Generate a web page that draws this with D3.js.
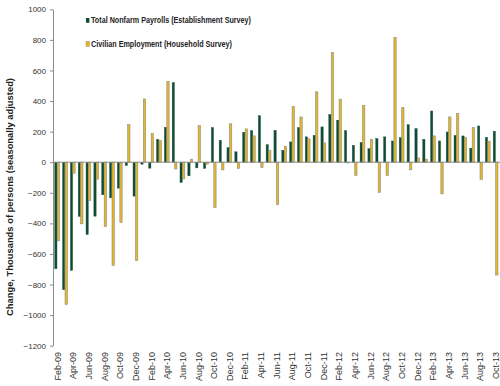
<!DOCTYPE html>
<html>
<head>
<meta charset="utf-8">
<script src="https://cdn.jsdelivr.net/npm/d3@7"></script>
<style>
  body { margin: 0; background: #fff; }
  text { font-family: "Liberation Sans", Arial, sans-serif; }
</style>
</head>
<body>
<svg width="500" height="386"></svg>
<script>
let months = ['Feb-09','Mar-09','Apr-09','May-09','Jun-09','Jul-09','Aug-09','Sep-09','Oct-09','Nov-09','Dec-09',
  'Jan-10','Feb-10','Mar-10','Apr-10','May-10','Jun-10','Jul-10','Aug-10','Sep-10','Oct-10','Nov-10','Dec-10',
  'Jan-11','Feb-11','Mar-11','Apr-11','May-11','Jun-11','Jul-11','Aug-11','Sep-11','Oct-11','Nov-11','Dec-11',
  'Jan-12','Feb-12','Mar-12','Apr-12','May-12','Jun-12','Jul-12','Aug-12','Sep-12','Oct-12','Nov-12','Dec-12',
  'Jan-13','Feb-13','Mar-13','Apr-13','May-13','Jun-13','Jul-13','Aug-13','Sep-13','Oct-13']

let payrolls = [-697, -834, -708, -355, -473, -353, -213, -233, -170, -22, -222,
  -13, -39, 150, 229, 521, -133, -89, -37, -41, 227, 144, 96,
  68, 196, 207, 305, 115, 209, 78, 133, 227, 166, 176, 231,
  312, 275, 207, 111, 129, 89, 155, 166, 139, 161, 246, 220,
  150, 335, 139, 198, 176, 172, 92, 237, 163, 203]

let household = [-514, -930, -72, -403, -250, -111, -420, -675, -394, 246, -643,
  414, 187, 142, 529, -44, -109, 20, 239, -13, -296, -50, 251,
  -41, 218, 172, -35, 76, -277, 105, 364, 296, 153, 460, 126,
  717, 412, -5, -87, 370, 150, -198, -87, 815, 357, -50, 28,
  20, 172, -207, 296, 318, 161, 227, -113, 137, -738]

let yTicks = [-1200, -1000, -800, -600, -400, -200, 0, 200, 400, 600, 800, 1000]
let xTicks = months.filter((m, i) => i % 2 === 0)

let seriesNames = ['Total Nonfarm Payrolls (Establishment Survey)', 'Civilian Employment (Household Survey)']
let legendWidths = [160, 141]
let green = '#0d4c37'
let gold = '#e8b42a'

let svg = d3.select('svg')

let x = d3.scaleBand()
  .domain(months)
  .range([53.5, 499.8])

let inner = d3.scaleBand()
  .domain(['p', 'h'])
  .range([1.2, 6.2])

let y = d3.scaleLinear()
  .domain([-1200, 1000])
  .range([345.7, 9.3])

let rows = months.map((m, i) => ({ m: m, p: payrolls[i], h: household[i] }))

// bars
let groups = svg.append('g')
  .selectAll('g')
  .data(rows)
  .enter()
  .append('g')
  .attr('transform', d => 'translate(' + x(d.m) + ',0)')

groups.append('rect')
  .attr('x', inner('p'))
  .attr('width', inner.bandwidth() - 0.2)
  .attr('y', d => y(Math.max(0, d.p)))
  .attr('height', d => Math.abs(y(d.p) - y(0)))
  .attr('fill', green)
  .attr('stroke', '#2d5a48')
  .attr('stroke-width', 0.4)

groups.append('rect')
  .attr('x', inner('h'))
  .attr('width', inner.bandwidth() - 0.2)
  .attr('y', d => y(Math.max(0, d.h)))
  .attr('height', d => Math.abs(y(d.h) - y(0)))
  .attr('fill', gold)
  .attr('stroke', '#8a8f78')
  .attr('stroke-width', 0.6)

// y axis
let yAxis = svg.append('g')
  .attr('transform', 'translate(53,0)')
  .call(d3.axisLeft(y).tickValues(yTicks).tickSize(3).tickSizeOuter(0).tickFormat(d3.format('d')))

yAxis.select('.domain').attr('stroke', '#8c8c8c')
yAxis.selectAll('.tick line').attr('stroke', '#8c8c8c')
yAxis.selectAll('.tick text')
  .attr('x', -7)
  .style('font-size', '8px')
  .style('font-family', '"Liberation Sans", Arial, sans-serif')
  .attr('fill', '#333')

// zero line
svg.append('line')
  .attr('x1', 53).attr('x2', 500)
  .attr('y1', y(0)).attr('y2', y(0))
  .attr('stroke', '#8c8c8c')
  .attr('stroke-width', 1)

// x labels
svg.append('g')
  .selectAll('text')
  .data(xTicks)
  .enter()
  .append('text')
  .attr('transform', d => 'translate(' + (x(d) + x.bandwidth() / 2) + ',352) rotate(-90)')
  .attr('dy', '0.35em')
  .attr('text-anchor', 'end')
  .style('font-size', '9px')
  .attr('fill', '#333')
  .text(d => d)

// y title
svg.append('text')
  .attr('transform', 'translate(12.5,197) rotate(-90)')
  .attr('text-anchor', 'middle')
  .attr('textLength', 238)
  .attr('lengthAdjust', 'spacingAndGlyphs')
  .style('font-size', '8.5px')
  .style('font-weight', 'bold')
  .attr('fill', '#222')
  .text('Change, Thousands of persons (seasonally adjusted)')

// legend
let legend = svg.append('g')
  .selectAll('g')
  .data(seriesNames)
  .enter()
  .append('g')
  .attr('transform', (d, i) => 'translate(86,' + (18 + i * 23.5) + ')')

legend.append('rect')
  .attr('width', 3.4)
  .attr('height', 4.8)
  .attr('fill', (d, i) => i === 0 ? green : gold)
  .attr('stroke', (d, i) => i === 0 ? 'none' : '#8a8f78')
  .attr('stroke-width', 0.5)

legend.append('text')
  .attr('x', 5)
  .attr('y', 5.3)
  .attr('textLength', (d, i) => legendWidths[i])
  .attr('lengthAdjust', 'spacingAndGlyphs')
  .style('font-size', '9.5px')
  .style('font-weight', 'bold')
  .attr('fill', '#222')
  .text(d => d)
</script>
</body>
</html>
